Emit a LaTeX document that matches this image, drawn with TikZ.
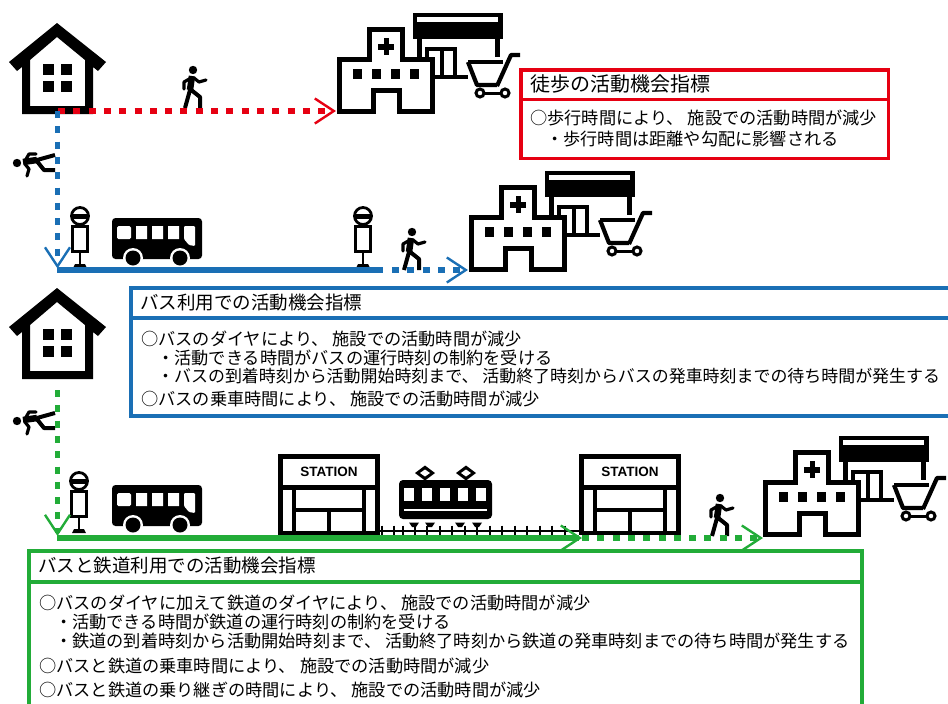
\documentclass[tikz,border=0pt]{standalone}
\usepackage{fontspec}
\setmainfont{Noto Sans CJK JP}
\newfontfamily\latinbold{Liberation Sans}[Scale=1]
\usetikzlibrary{arrows.meta}
\definecolor{rd}{HTML}{E60012}
\definecolor{bl}{HTML}{1A6FB5}
\definecolor{gr}{HTML}{22AC38}
\tikzset{
  x=1pt,y=-1pt,
  body/.style={font=\fontsize{17.2}{20}\selectfont,anchor=west,inner sep=0pt},
  head/.style={font=\fontsize{18.5}{22}\selectfont,anchor=west,inner sep=0pt},
  solidline/.style={line width=5.4pt},
  dotline/.style={line width=5.6pt,dash pattern=on 7pt off 8.3pt},
  vee/.style={-{Straight Barb[length=19pt,width=25pt,line width=2.4pt]}},
  infobox/.style={line width=3.8pt,fill=white},
  house/.pic={
    \fill[even odd rule,black] (0,-91)--(49,-52)--(41,-43)--(36,-47)--(36,0)--(-35,0)--(-35,-47)--(-40,-43)--(-48,-52)--cycle
      (0,-77)--(28,-54)--(28,-8)--(-27,-8)--(-27,-54)--cycle;
    \foreach \wx in {-14,4}{\foreach \wy in {-50,-33}{\fill (\wx,\wy) rectangle +(11,11);}}
  },
  facility/.pic={
    \fill (76,-101) rectangle (166,-75);
    \fill[white] (80,-97) rectangle (161,-92);
    \fill (80,-75) rectangle (85,-50);
    \fill (158,-75) rectangle (162.5,-57);
    \draw[line width=4.5pt] (90,-38) -- (90,-65) -- (118,-65) -- (118,-38);
    \draw[line width=4pt] (105,-65) -- (105,-38);
    \draw[line width=4pt] (90,-37) -- (131,-37);
    \draw[line width=5pt,fill=white] (2.5,-2.5)--(2.5,-55)--(32,-55)--(32,-85)--(65,-85)--(65,-55)--(95,-55)--(95,-2.5)--(62,-2.5)--(62,-24)--(36,-24)--(36,-2.5)--cycle;
    \fill (41,-70) rectangle +(16,5.5);
    \fill (46.5,-76) rectangle +(5.5,16.5);
    \foreach \wx in {16,35,54,73}{\fill (\wx,-45) rectangle +(9,10);}
    \draw[line width=4.2pt] (131,-52)--(166,-52);
    \draw[line width=4.2pt,line join=round] (131,-52)--(140,-29)--(160,-29);
    \draw[line width=4.2pt,line join=round] (160,-28)--(174,-59)--(183,-59);
    \draw[line width=3pt] (143,-21)--(168,-21);
    \draw[line width=3pt,fill=white] (143,-21) circle (4) (168,-21) circle (4);
  },
  walker/.pic={
    \fill (0,0) circle (4.2);
    \draw[line width=6.5pt,line join=round] (-1,6)--(-3,20);
    \draw[line width=3.2pt,line join=round,line cap=round] (-2,8)--(-9,12)--(-9,19) (1,8)--(6,12)--(13,10);
    \draw[line width=4pt,line join=round] (-3,19)--(7,27)--(7,38) (-3,20)--(-8,38);
  },
  fallen/.pic={
    \fill (0,0) circle (4.2);
    \draw[line width=6.5pt,line join=round] (6,-1)--(20,-3);
    \draw[line width=3.2pt,line join=round,line cap=round] (8,-2)--(12,-9)--(19,-9) (8,1)--(12,6)--(10,13);
    \draw[line width=4pt,line join=round] (19,-3)--(27,7)--(38,7) (20,-3)--(38,-8);
  },
  busstop/.pic={
    \draw[line width=2.8pt,fill=white] (0,0) circle (8.5);
    \fill (-8,-2.5) rectangle (8,2.5);
    \draw[line width=2.8pt,fill=white] (-7.5,10.5) rectangle (7.5,35.5);
    \draw[line width=2.8pt] (0,36)--(0,48);
    \fill (-7,52) -- (-5,48) -- (5,48) -- (7,52) -- cycle;
  },
  bus/.pic={
    \fill[rounded corners=3.5pt] (112,218) rectangle (202,259);
    \fill[white,rounded corners=1.5pt] (117,226) rectangle (131,239);
    \fill[white] (136,226) rectangle (147,239) (152,226) rectangle (163,239) (168,226) rectangle (179,239);
    \fill[white,rounded corners=1pt] (184,226)--(195,226)--(195,246)--(189,245)--(184,239)--cycle;
    \fill[white] (133,258) circle (10) (180,258) circle (10);
    \fill (133,258) circle (7.5) (180,258) circle (7.5);
  },
  station/.pic={
    \draw[line width=4.6pt,fill=white] (2.3,2.3) rectangle (99.7,79);
    \fill (0,31) rectangle (102,35.5);
    \draw[line width=4pt] (16,33)--(16,79) (86,33)--(86,79) (16,56)--(86,56) (51,56)--(51,79);
    \node[inner sep=0pt,font=\latinbold\bfseries\fontsize{13.5}{13.5}\selectfont] at (51,18) {STATION};
  },
}
\begin{document}
\begin{tikzpicture}
\useasboundingbox (0,0) rectangle (948,704);
\clip (0,0) rectangle (948,704);

% endpoints
\coordinate (homeA) at (58,111);
\coordinate (shopA) at (336,111);
\coordinate (homeB) at (57.5,111);
\coordinate (cornerB) at (57,270);
\coordinate (tipB) at (57.5,268.5);
\coordinate (stopB) at (383,270);
\coordinate (walkB) at (392,270);
\coordinate (shopB) at (468,270);
\coordinate (homeC) at (57.5,390);
\coordinate (cornerC) at (57,538);
\coordinate (tipC) at (57.5,536);
\coordinate (stationC) at (582,538);
\coordinate (shopC) at (763,538);

% track
\draw[line width=1.6pt] (380,531)--(579,531);
\foreach \tx in {382,394,403,415,427,440,452,465,477,490,502,515,527,540,552,565}{\draw[line width=1.6pt] (\tx,525.5)--(\tx,536);}
\foreach \bx in {414,430,460,477}{\fill (\bx-5,522.5) -- (\bx+5,522.5) -- (\bx+2,527) -- (\bx-2,527) -- cycle;}

% train
\fill (425,465.5)--(435,473)--(425,480.5)--(415,473)--cycle;
\fill[white] (425,469.5)--(430,473)--(425,476.5)--(420,473)--cycle;
\fill (466,465.5)--(476,473)--(466,480.5)--(456,473)--cycle;
\fill[white] (466,469.5)--(471,473)--(466,476.5)--(461,473)--cycle;
\fill[rounded corners=4pt] (399,480) rectangle (492,519);
\foreach \wx in {404,422,440,458,476}{\fill[white] (\wx,488) rectangle +(10,13);}
\fill[white] (404,508.5) rectangle (487,511);

% icons
\pic at (57,114) {house};
\pic at (57,379) {house};
\pic at (337,114) {facility};
\pic at (469,272) {facility};
\pic at (763,537) {facility};
\pic at (193,70) {walker};
\pic at (412,232) {walker};
\pic at (720,498) {walker};
\pic at (17,163) {fallen};
\pic at (17,421) {fallen};
\pic at (80,216) {busstop};
\pic at (363,216) {busstop};
\pic at (79,481) {busstop};
\pic at (0,0) {bus};
\pic at (0,267) {bus};
\pic at (278,454) {station};
\pic at (579,454) {station};

% connectors
\draw[rd,dotline,vee] (homeA) -- (shopA);
\draw[bl,dotline,vee] (homeB) -- (tipB);
\draw[bl,solidline] (cornerB) -- (stopB);
\draw[bl,dotline,vee] (walkB) -- (shopB);
\draw[gr,dotline,vee] (homeC) -- (tipC);
\draw[gr,solidline,vee] (cornerC) -- (stationC);
\draw[gr,dotline,vee] (stationC) -- (shopC);

% red box
\draw[rd,infobox] (521,70) rectangle (888.5,158.5);
\draw[rd,line width=3.8pt] (521,99.5) -- (888.5,99.5);
\node[head,font=\fontsize{20}{22}\selectfont] (rh) at (530,84) {徒歩の活動機会指標};
\node[body] (r1) at (530,118) {○歩行時間により、 施設での活動時間が減少};
\node[body] (r2) at (546,139) {・歩行時間は距離や勾配に影響される};

% blue box
\draw[bl,infobox] (131,288) rectangle (960,416);
\draw[bl,line width=3.8pt] (131,318) -- (960,318);
\node[head] (bh) at (140,303) {バス利用での活動機会指標};
\node[body] (b1) at (141,339) {○バスのダイヤにより、 施設での活動時間が減少};
\node[body] (b2) at (157,358) {・活動できる時間がバスの運行時刻の制約を受ける};
\node[body,font=\fontsize{16.95}{20}\selectfont] (b3) at (157,376) {・バスの到着時刻から活動開始時刻まで、 活動終了時刻からバスの発車時刻までの待ち時間が発生する};
\node[body] (b4) at (141,399) {○バスの乗車時間により、 施設での活動時間が減少};

% green box
\draw[gr,infobox] (29,551) rectangle (862,720);
\draw[gr,line width=3.8pt] (29,582) -- (862,582);
\node[head] (gh) at (38,566) {バスと鉄道利用での活動機会指標};
\node[body] (g1) at (39,603) {○バスのダイヤに加えて鉄道のダイヤにより、 施設での活動時間が減少};
\node[body] (g2) at (55,622) {・活動できる時間が鉄道の運行時刻の制約を受ける};
\node[body] (g3) at (55,641) {・鉄道の到着時刻から活動開始時刻まで、 活動終了時刻から鉄道の発車時刻までの待ち時間が発生する};
\node[body] (g4) at (39,666) {○バスと鉄道の乗車時間により、 施設での活動時間が減少};
\node[body] (g5) at (39,690) {○バスと鉄道の乗り継ぎの時間により、 施設での活動時間が減少};
\end{tikzpicture}
\end{document}
